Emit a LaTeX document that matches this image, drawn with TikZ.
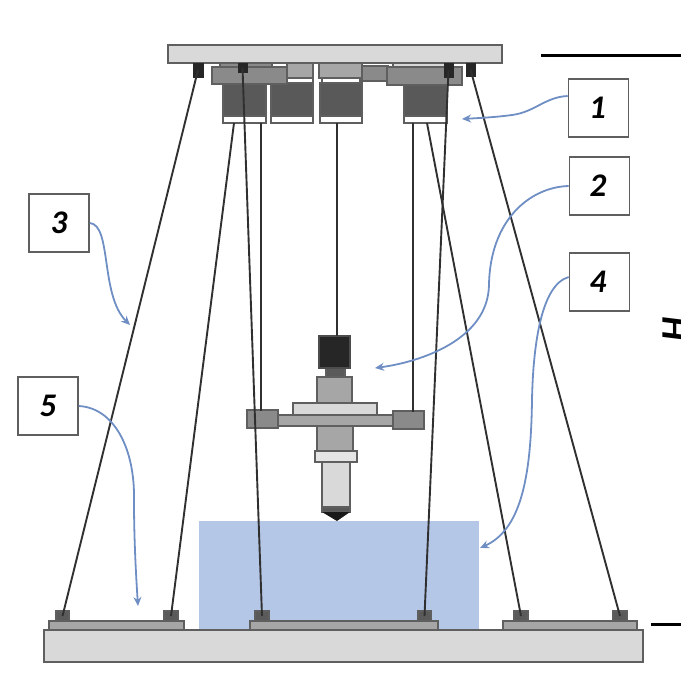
\documentclass[tikz,border=0pt]{standalone}
\usepackage{fontspec}
\setmainfont{Carlito}
\usetikzlibrary{arrows.meta}
\definecolor{edgegray}{HTML}{5F5F5F}
\definecolor{rodblack}{HTML}{303030}
\definecolor{arrowblue}{HTML}{6F8FC4}
\definecolor{waterblue}{HTML}{B4C7E7}
\definecolor{paleg}{HTML}{D9D9D9}
\definecolor{midg}{HTML}{A6A6A6}
\definecolor{darkg}{HTML}{8A8A8A}
\definecolor{motorg}{HTML}{595959}
\definecolor{jointg}{HTML}{5A5A5A}
\tikzset{
  part/.style={draw=edgegray,line width=1.5pt,inner sep=0pt,outer sep=0pt},
  pale/.style={part,fill=paleg},
  mid/.style={part,fill=midg},
  dark/.style={part,fill=darkg},
  motor/.style={part,fill=motorg},
  whitepart/.style={part,fill=white},
  joint/.style={part,fill=jointg},
  blackpart/.style={draw=black!85,fill=black!85,line width=.6pt,inner sep=0pt,outer sep=0pt},
  camera/.style={part,draw=black!70,fill=black!85},
  rod/.style={draw=rodblack,line width=1.9pt},
  callout/.style={draw=arrowblue,line width=1.8pt,-{Stealth[length=9pt,width=8pt,fill=arrowblue!90!black]}},
  labelbox/.style={draw=edgegray,fill=white,line width=1.6pt,minimum width=60pt,minimum height=58pt,inner sep=0pt,font=\fontsize{33}{33}\selectfont\bfseries\itshape},
  rule/.style={draw=black,line width=3pt}
}
\newcommand{\partbox}[6]{%
  \pgfmathsetmacro\pbw{#4-#2}\pgfmathsetmacro\pbh{#5-#3}%
  \pgfmathsetmacro\pbx{(#4+#2)/2}\pgfmathsetmacro\pby{(#5+#3)/2}%
  \node[#6,minimum width=\pbw pt,minimum height=\pbh pt] (#1) at (\pbx,\pby) {};}
\begin{document}
\begin{tikzpicture}[x=1pt,y=-1pt]
\useasboundingbox (0,0) rectangle (681,681);
\clip (0,0) rectangle (681,681);
% liquid
\partbox{liquid}{199}{521}{479}{630}{fill=waterblue,inner sep=0pt,outer sep=0pt}
% base
\partbox{base}{44}{630}{643}{662}{pale}
\partbox{padl}{49}{621}{184}{630}{mid}
\partbox{padc}{250}{621}{438}{630}{mid}
\partbox{padr}{503}{621}{637}{630}{mid}
% upper assembly
\partbox{gearthinl}{220}{63}{272}{68}{part,fill=darkg}
\partbox{gearb}{287}{63}{313}{78}{mid}
\partbox{geara}{319}{63}{362}{78}{mid}
\partbox{gearbw}{287}{78}{313}{83}{whitepart}
\partbox{gearaw}{322}{78}{360}{83}{whitepart}
\partbox{gearmid}{362}{66}{388}{81}{dark}
\partbox{gearthinr}{393}{63}{445}{68}{part,fill=paleg}
\partbox{motora}{223}{84}{266}{116}{motor}
\partbox{motorb}{271}{83}{313}{116}{motor}
\partbox{motorc}{320}{83}{362}{116}{motor}
\partbox{motord}{404}{84}{447}{116}{motor}
\partbox{capa}{223}{116}{266}{123}{whitepart}
\partbox{capb}{271}{116}{313}{123}{whitepart}
\partbox{capc}{320}{116}{362}{123}{whitepart}
\partbox{capd}{404}{116}{447}{123}{whitepart}
\partbox{plateleft}{212}{67}{287}{84}{dark}
\partbox{plateright}{387}{67}{462}{85}{dark}
\partbox{topplate}{168}{45}{502}{63}{pale}
% effector
\partbox{camneck}{326}{368}{345}{377}{part,fill=motorg}
\partbox{cam}{319}{336}{350}{368}{camera}
\partbox{bodyup}{317}{377}{352}{403}{mid}
\partbox{bodylow}{317}{426}{353}{451}{mid}
\partbox{flange}{293}{403}{377}{415}{pale}
\partbox{arm}{278}{415}{393}{426}{mid}
\partbox{collar}{315}{451}{357}{462}{part,fill=white!90!black}
\partbox{nozzle}{322}{462}{350}{507}{pale}
\partbox{tipbase}{322}{507}{350}{512}{part,fill=motorg}
\fill[black!90] (322,512) -- (350,512) -- (337,521) -- cycle;
\partbox{blockl}{247}{410}{278}{428}{dark}
\partbox{blockr}{393}{411}{424}{429}{dark}
% floor joints
\partbox{jfa}{56}{611}{69}{621}{joint}
\partbox{jfb}{164}{611}{178}{621}{joint}
\partbox{jfc}{255}{611}{269}{621}{joint}
\partbox{jfd}{418}{611}{431}{621}{joint}
\partbox{jfe}{514}{611}{528}{621}{joint}
\partbox{jff}{613}{611}{627}{621}{joint}
% top joints
\partbox{jta}{193}{63}{203}{77}{blackpart}
\partbox{jtb}{238}{63}{247}{72}{blackpart}
\partbox{jtc}{444}{63}{453}{77}{blackpart}
\partbox{jtd}{466}{63}{475}{76}{blackpart}
% rods
\coordinate (rta) at (234,123);
\coordinate (rtb) at (261,123);
\coordinate (rtc) at (337,123);
\coordinate (rtd) at (413,123);
\coordinate (rte) at (427,123);
\coordinate (rbl) at (261,411);
\coordinate (rbr) at (413,412);
\coordinate (rbc) at (337,336);
\draw[rod] (jta.center) -- (jfa.center);
\draw[rod] (jtb.center) -- (jfc.center);
\draw[rod] (jtc.center) -- (jfd.center);
\draw[rod] (jtd.center) -- (jff.center);
\draw[rod] (rta) -- (jfb.center);
\draw[rod] (rte) -- (jfe.center);
\draw[rod] (rtb) -- (rbl);
\draw[rod] (rtd) -- (rbr);
\draw[rod] (rtc) -- (rbc);
% labels
\node[labelbox] (one) at (598.5,108) {\kern-2pt 1};
\node[labelbox] (two) at (599.5,186) {\kern-3pt 2};
\node[labelbox] (four) at (599.5,282) {\kern-3pt 4};
\node[labelbox] (three) at (59,223) {3};
\node[labelbox] (five) at (48,406) {5};
% callouts
\coordinate (aone) at (462,119);
\coordinate (atwo) at (375,368);
\coordinate (afour) at (480,548);
\coordinate (athree) at (130,325);
\coordinate (afive) at (138,606);
\draw[callout] (one.west) ++(0,-12) .. controls (545,97) and (535,112) .. (512,115) .. controls (498,117) and (480,118) .. (aone);
\draw[callout] (two.west) .. controls (530,187) and (490,220) .. (489,285) .. controls (488,340) and (420,362) .. (atwo);
\draw[callout] (four.west) ++(0,-5) .. controls (540,285) and (533,350) .. (532,400) .. controls (531,480) and (520,530) .. (afour);
\draw[callout] (three.east) .. controls (112,225) and (100,295) .. (athree);
\draw[callout] (five.east) .. controls (115,408) and (135,450) .. (134,500) .. controls (134,540) and (136,575) .. (afive);
% height marks
\coordinate (hta) at (541,55);
\coordinate (htb) at (681,55);
\coordinate (hba) at (651,624);
\coordinate (hbb) at (681,624);
\draw[rule] (hta) -- (htb);
\draw[rule] (hba) -- (hbb);
\node[rotate=90,inner sep=0pt,font=\fontsize{38}{38}\selectfont\bfseries\itshape] (hlabel) at (675,330) {H};
\end{tikzpicture}
\end{document}
